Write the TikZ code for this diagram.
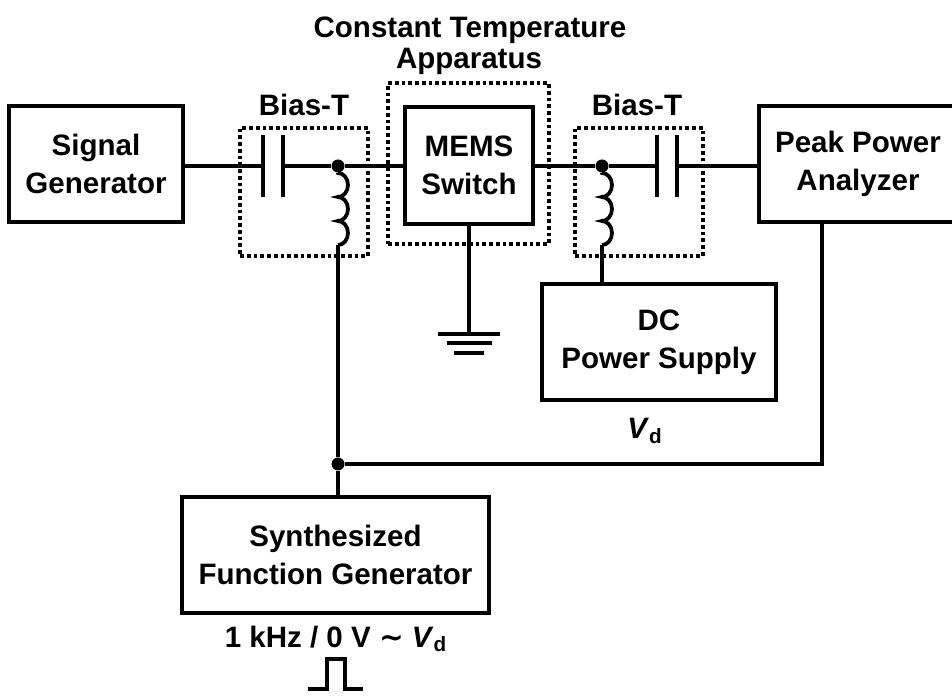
\documentclass[tikz,border=0pt]{standalone}
\usepackage{fontspec}
\setmainfont{Liberation Sans}
\newfontfamily\symfont{DejaVu Sans}
\usepackage{tikz}
\usetikzlibrary{positioning}

\begin{document}
\begin{tikzpicture}[
  every node/.style={font=\fontsize{16.8}{21.4}\selectfont\bfseries},
  wire/.style={line width=0.075cm},
  block/.style={rectangle, draw, line width=0.075cm, align=center, minimum height=2.32cm},
  dotbox/.style={rectangle, draw, line width=0.075cm, dash pattern=on 0.075cm off 0.06cm, minimum width=2.56cm, minimum height=2.56cm},
  joint/.style={circle, fill, inner sep=0pt, minimum size=0.26cm},
  plate/.style={line width=0.075cm},
]
\useasboundingbox (0,0) rectangle (19.04,13.94);

% Dotted groups
\node[dotbox] at (6.08, 10.10) (biasl) {};
\node[dotbox] at (12.78, 10.10) (biasr) {};
\node[dotbox, minimum width=3.22cm, minimum height=3.22cm] at (9.37, 10.67) (oven) {};

% Blocks
\node[block, minimum width=3.48cm] at (1.92, 10.66) (siggen) {Signal\\Generator};
\node[block, minimum width=2.56cm, minimum height=2.34cm] at (9.38, 10.63) (mems) {MEMS\\Switch};
\node[block, minimum width=3.96cm] at (17.16, 10.66) (analyzer) {Peak Power\\Analyzer};
\node[block, minimum width=4.68cm] at (13.18, 7.10) (dcsupply) {DC\\Power Supply};
\node[block, minimum width=6.14cm] at (6.71, 2.84) (synth) {Synthesized\\Function Generator};

% Labels
\node at (9.40, 13.34) (ovenlabel) {Constant Temperature};
\node at (9.38, 12.72) (ovenlabelb) {Apparatus};
\node at (6.08, 11.84) (biaslabell) {Bias-T};
\node at (12.74, 11.84) (biaslabelr) {Bias-T};
\node at (12.90, 5.32) (vdlabel) {\textit{V}\textsubscript{d}};
\node at (6.72, 1.16) (synthlabel) {1 kHz / 0 V {\symfont ∼} \textit{V}\textsubscript{d}};

% Junctions
\node[joint] at (6.76, 10.62) (jleft) {};
\node[joint] at (12.04, 10.62) (jright) {};
\node[joint] at (6.76, 4.66) (jbottom) {};

% Capacitors and coil ends
\coordinate (capla) at (5.26, 10.62);
\coordinate (caplb) at (5.66, 10.62);
\coordinate (capra) at (13.14, 10.62);
\coordinate (caprb) at (13.54, 10.62);
\coordinate (coilltop) at (6.76, 10.48);
\coordinate (coillbot) at (6.76, 9.04);
\coordinate (coilrtop) at (12.04, 10.48);
\coordinate (coilrbot) at (12.04, 9.04);
\coordinate (gnd) at (9.38, 7.26);
\coordinate (ppout) at (16.44, 4.66);

\draw[plate] ([yshift=0.62cm]capla) -- ([yshift=-0.62cm]capla);
\draw[plate] ([yshift=0.62cm]caplb) -- ([yshift=-0.62cm]caplb);
\draw[plate] ([yshift=0.62cm]capra) -- ([yshift=-0.62cm]capra);
\draw[plate] ([yshift=0.62cm]caprb) -- ([yshift=-0.62cm]caprb);

% Main line
\draw[wire] (siggen.east |- capla) -- (capla);
\draw[wire] (caplb) -- (jleft);
\draw[wire] (jleft) -- (mems.west |- jleft);
\draw[wire] (mems.east |- jright) -- (jright);
\draw[wire] (jright) -- (capra);
\draw[wire] (caprb) -- (analyzer.west |- caprb);

% Coils
\draw[wire] (jleft) -- (coilltop)
  arc[start angle=90, end angle=-90, x radius=0.2, y radius=0.24]
  arc[start angle=90, end angle=-90, x radius=0.2, y radius=0.24]
  arc[start angle=90, end angle=-90, x radius=0.2, y radius=0.24];
\draw[wire] (jright) -- (coilrtop)
  arc[start angle=90, end angle=-90, x radius=0.2, y radius=0.24]
  arc[start angle=90, end angle=-90, x radius=0.2, y radius=0.24]
  arc[start angle=90, end angle=-90, x radius=0.2, y radius=0.24];
\draw[wire] (coillbot) -- (jbottom);
\draw[wire] (coilrbot) -- (coilrbot |- dcsupply.north);

% Lower connections
\draw[wire] (jbottom) -- (jbottom |- synth.north);
\draw[wire] (ppout |- analyzer.south) -- (ppout) -- (jbottom);

% Ground
\draw[wire] (mems.south) -- (gnd);
\draw[plate] ([xshift=-0.62cm]gnd) -- ([xshift=0.62cm]gnd);
\draw[plate] ([xshift=-0.45cm, yshift=-0.18cm]gnd) -- ([xshift=0.45cm, yshift=-0.18cm]gnd);
\draw[plate] ([xshift=-0.30cm, yshift=-0.38cm]gnd) -- ([xshift=0.30cm, yshift=-0.38cm]gnd);

% Pulse
\draw[wire] (6.16, 0.16) -- (6.54, 0.16) -- (6.54, 0.76) -- (6.90, 0.76) -- (6.90, 0.16) -- (7.26, 0.16);

\end{tikzpicture}
\end{document}
